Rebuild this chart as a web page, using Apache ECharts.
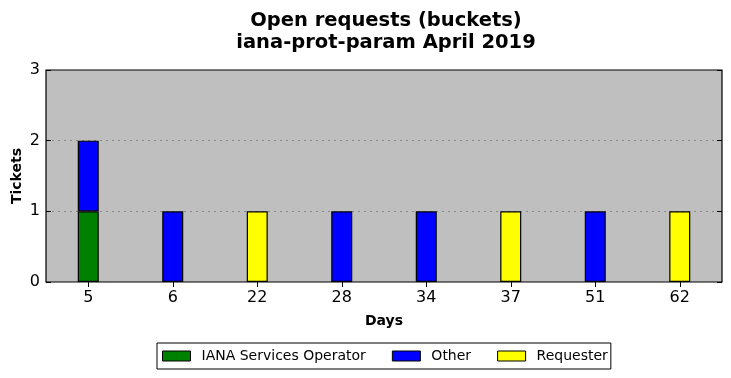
<!DOCTYPE html>
<html><head><meta charset="utf-8">
<script src="https://cdn.jsdelivr.net/npm/echarts@6/dist/echarts.min.js"></script>
<style>html,body{margin:0;padding:0;background:#fff}#c{width:731px;height:378px}</style>
</head><body><div id="c"></div>
<script>
const categories = ['5','6','22','28','34','37','51','62'];
const ianaOperator = [1,0,0,0,0,0,0,0];
const other = [1,1,0,1,1,0,1,0];
const requester = [0,0,1,0,0,1,0,1];
const yTicks = [0,1,2,3];

const font = 'DejaVu Sans';
const chart = echarts.init(document.getElementById('c'));
function bar(name, data, color){
  return {name, type:'bar', stack:'a', data: data.map(v => v === 0 ? null : v), barWidth:21,
    itemStyle:{color, borderColor:'#000', borderWidth:1.2}, xAxisIndex:0, yAxisIndex:0};
}
chart.setOption({
  animation:false,
  backgroundColor:'#fff',
  title:{text:'Open requests (buckets)\niana-prot-param April 2019', left:381, top:5, textAlign:'center',
    textStyle:{fontFamily:font, fontWeight:'bold', fontSize:19.5, color:'#000', lineHeight:22}},
  grid:{left:46, right:9, top:70, bottom:96, outerBoundsMode:'none', containLabel:false, show:true, backgroundColor:'#bfbfbf', borderColor:'#000', borderWidth:1.2},
  legend:{left:157, top:343, padding:[6,3,6,5], itemWidth:28, itemHeight:10, itemGap:26, icon:'rect',
    borderColor:'#000', borderWidth:1, backgroundColor:'#fff',
    textStyle:{fontFamily:font, fontSize:14, color:'#000', padding:[0,0,0,6]},
    data:['IANA Services Operator','Other','Requester'],
    itemStyle:{borderColor:'#000', borderWidth:1}},
  xAxis:[{type:'category', data:categories, name:'Days', nameLocation:'middle', nameGap:32, nameMoveOverlap:false,
      nameTextStyle:{fontFamily:font, fontWeight:'bold', fontSize:14, color:'#000'},
      axisLine:{show:false}, axisTick:{show:true, inside:true, alignWithLabel:true, length:5, lineStyle:{color:'#000'}},
      axisLabel:{fontFamily:font, fontSize:16, color:'#000', margin:8}},
    {type:'category', data:categories, position:'top', axisLine:{show:false},
      axisTick:{show:true, inside:true, alignWithLabel:true, length:5, lineStyle:{color:'#000'}}, axisLabel:{show:false}}],
  yAxis:[{type:'value', min:yTicks[0], max:yTicks[yTicks.length-1], interval:1, name:'Tickets', nameLocation:'middle', nameGap:22, nameMoveOverlap:false,
      nameTextStyle:{fontFamily:font, fontWeight:'bold', fontSize:14, color:'#000'},
      axisLine:{show:false}, axisTick:{show:true, inside:true, length:5, lineStyle:{color:'#000'}},
      axisLabel:{fontFamily:font, fontSize:16, color:'#000', margin:6},
      splitLine:{show:true, showMinLine:false, showMaxLine:false, lineStyle:{color:'#888', type:[2,4], width:1}}},
    {type:'value', min:yTicks[0], max:yTicks[yTicks.length-1], interval:1, position:'right', axisLine:{show:false},
      axisTick:{show:true, inside:true, length:5, lineStyle:{color:'#000'}}, axisLabel:{show:false}, splitLine:{show:false}}],
  series:[bar('IANA Services Operator', ianaOperator, '#008000'), bar('Other', other, '#0000ff'), bar('Requester', requester, '#ffff00')]
});
</script></body></html>
